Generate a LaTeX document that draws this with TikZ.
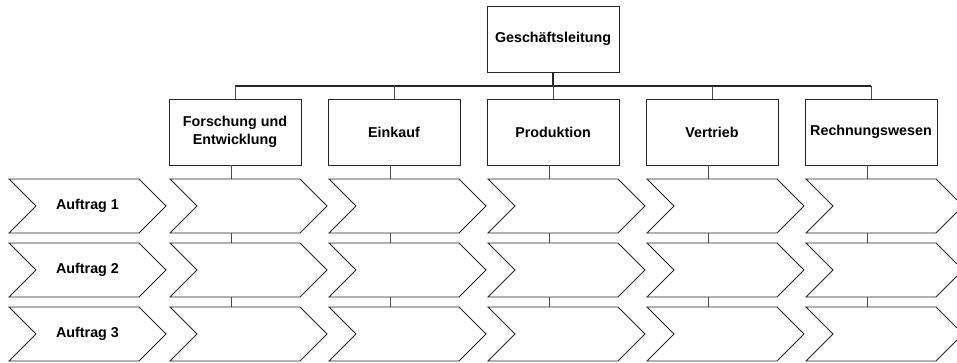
\documentclass[tikz,border=0pt]{standalone}
\usepackage{fontspec}
\setmainfont{Liberation Sans}
\usetikzlibrary{shapes.symbols}

\tikzset{
  abteilung/.style={draw=black!85, line width=0.8pt, fill=white,
    minimum width=132pt, minimum height=66pt, inner sep=2pt, align=center,
    font=\bfseries\fontsize{14.3}{18}\selectfont},
  pfeil/.style={draw=black!85, line width=0.8pt, fill=white, signal,
    signal from=west, signal to=east, signal pointer angle=90,
    minimum width=157pt, minimum height=54pt, inner sep=0pt,
    font=\bfseries\fontsize{14.3}{18}\selectfont},
  linie/.style={draw=black!70, line width=0.9pt},
  stamm/.style={draw=black!85, line width=1.2pt}
}

\begin{document}
\begin{tikzpicture}[x=1pt,y=-1pt]
  \useasboundingbox (0,0) rectangle (957,362);

  % Leitung und Abteilungen
  \node[abteilung] (gl) at (553,39) {Geschäftsleitung};
  \node[abteilung] (fe) at (235,132) {Forschung und\\Entwicklung};
  \node[abteilung] (ek) at (394,132) {Einkauf};
  \node[abteilung] (pr) at (553,132) {Produktion};
  \node[abteilung] (vt) at (712,132) {Vertrieb};
  \node[abteilung] (rw) at (871,132) {Rechnungswesen};

  \coordinate (bus) at (553,86);
  \draw[stamm] (gl.south) -- (bus);
  \draw[stamm] (bus -| fe.north) -- (bus -| rw.north);
  \foreach \d in {fe,ek,pr,vt,rw}
    \draw[linie] (bus -| \d.north) -- (\d.north);

  % Auftraege
  \foreach \r/\y in {1/206,2/270,3/334} {
    \node[pfeil] (a\r) at (87.5,\y) {Auftrag \r};
    \foreach \d/\x in {fe/235,ek/394,pr/553,vt/712,rw/871}
      \node[pfeil] (\d\r) at (\x+13.5,\y) {};
  }

  \foreach \d in {fe,ek,pr,vt,rw} {
    \coordinate (\d s) at ([xshift=-3.5pt]\d.south);
    \draw[linie] (\d s) -- (\d s |- \d1.north);
    \draw[linie] (\d s |- \d1.south) -- (\d s |- \d2.north);
    \draw[linie] (\d s |- \d2.south) -- (\d s |- \d3.north);
  }
\end{tikzpicture}
\end{document}
